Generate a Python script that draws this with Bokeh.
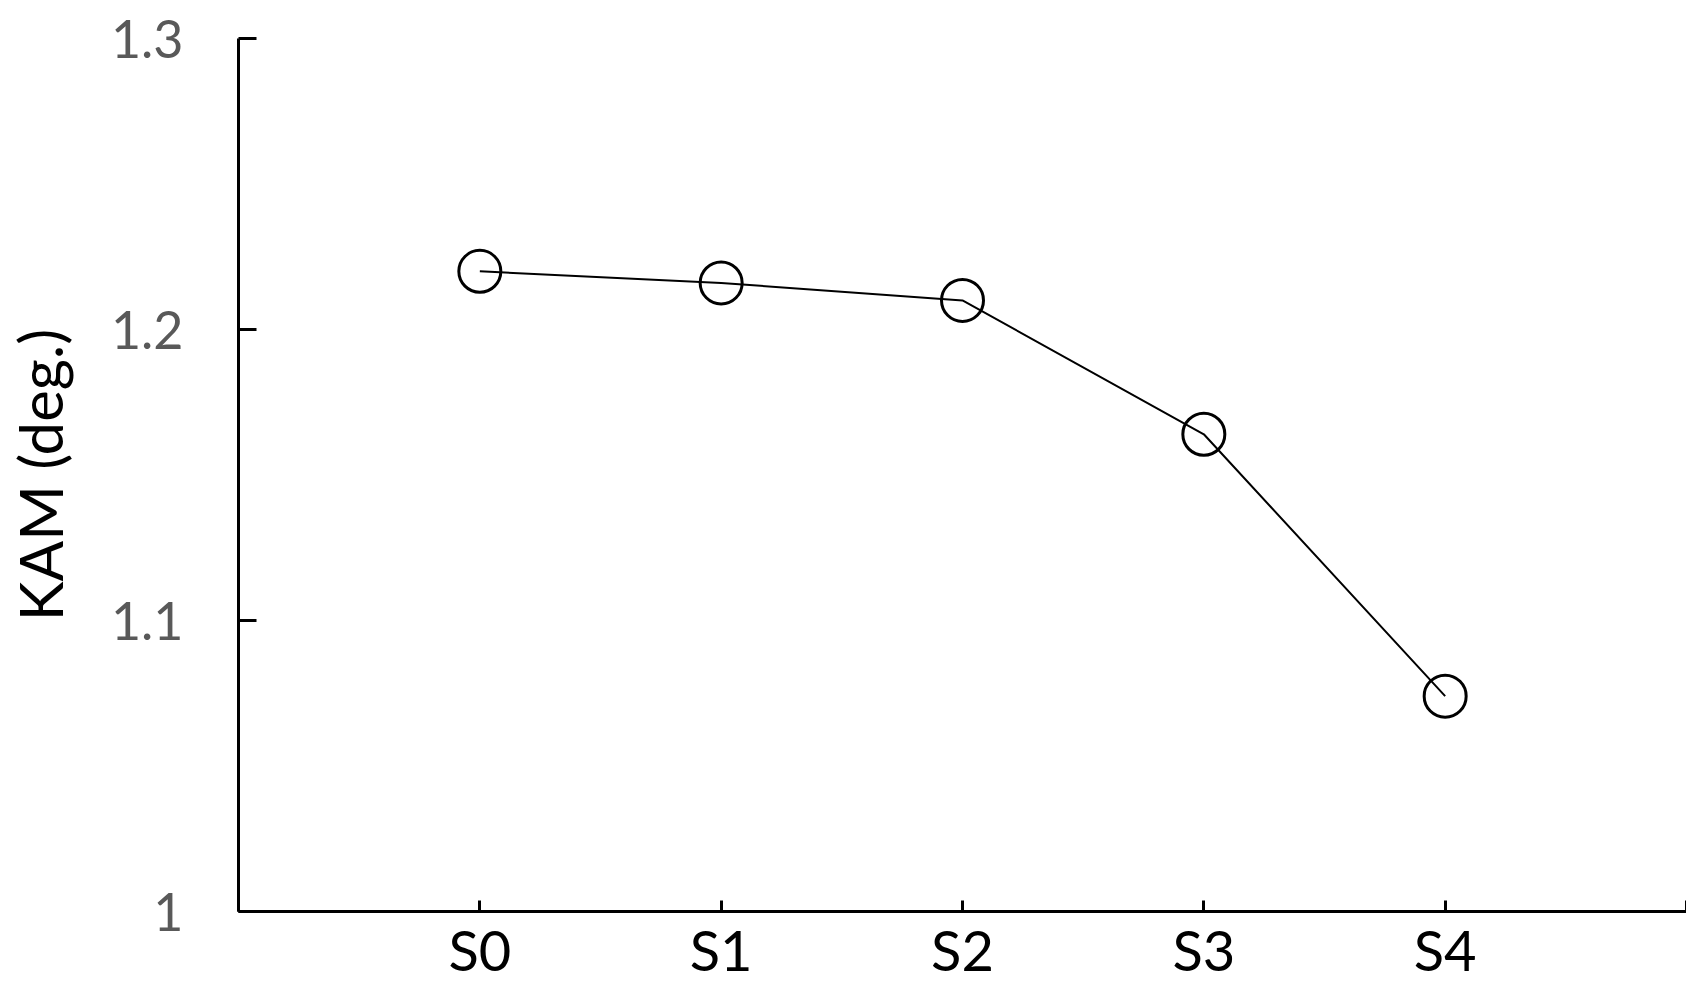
from bokeh.plotting import figure
from bokeh.models import Range1d, FixedTicker, CustomJSTickFormatter
from bokeh.embed import file_html
from bokeh.resources import INLINE

categories = ["S0", "S1", "S2", "S3", "S4"]
kam_values = [1.220, 1.216, 1.210, 1.164, 1.074]
y_ticks = [1.0, 1.1, 1.2, 1.3]
y_label = "KAM (deg.)"

x_pos = [i + 1 for i in range(len(categories))]

FONT = "Lato"

p = figure(width=1686, height=985, output_backend="svg", toolbar_location=None,
           x_range=Range1d(0, len(categories) + 1), y_range=Range1d(y_ticks[0], y_ticks[-1]),
           min_border_left=231, min_border_right=0, min_border_top=38, min_border_bottom=74)
p.outline_line_color = None
p.xgrid.visible = False
p.ygrid.visible = False
p.background_fill_color = "white"

p.line(x_pos, kam_values, line_color="black", line_width=2)
p.scatter(x_pos, kam_values, marker="circle", size=42, fill_color=None,
          line_color="black", line_width=3)

# x axis
xa = p.xaxis[0]
xa.ticker = FixedTicker(ticks=list(range(0, len(categories) + 2)))
overrides = {0: "", len(categories) + 1: ""}
for i, c in enumerate(categories):
    overrides[i + 1] = c
xa.major_label_overrides = overrides
xa.axis_line_color = "black"
xa.axis_line_width = 3
xa.major_tick_line_width = 3
xa.major_tick_in = 11
xa.major_tick_out = 0
xa.minor_tick_line_color = None
xa.major_label_text_font = FONT
xa.major_label_text_font_size = "56px"
xa.major_label_text_color = "black"
xa.major_label_standoff = 4

# y axis
ya = p.yaxis[0]
ya.ticker = FixedTicker(ticks=y_ticks)
ya.formatter = CustomJSTickFormatter(code="return Number(tick.toFixed(1)).toString();")
ya.axis_line_color = "black"
ya.axis_line_width = 3
ya.major_tick_line_width = 3
ya.major_tick_in = 18
ya.major_tick_out = 0
ya.minor_tick_line_color = None
ya.major_label_text_font = FONT
ya.major_label_text_font_size = "52px"
ya.major_label_text_color = "#595959"
ya.major_label_standoff = 55
ya.axis_label = y_label
ya.axis_label_text_font = FONT
ya.axis_label_text_font_size = "60px"
ya.axis_label_text_font_style = "normal"
ya.axis_label_text_color = "black"
ya.axis_label_standoff = 32

open("out.html", "w").write(file_html(p, INLINE))
